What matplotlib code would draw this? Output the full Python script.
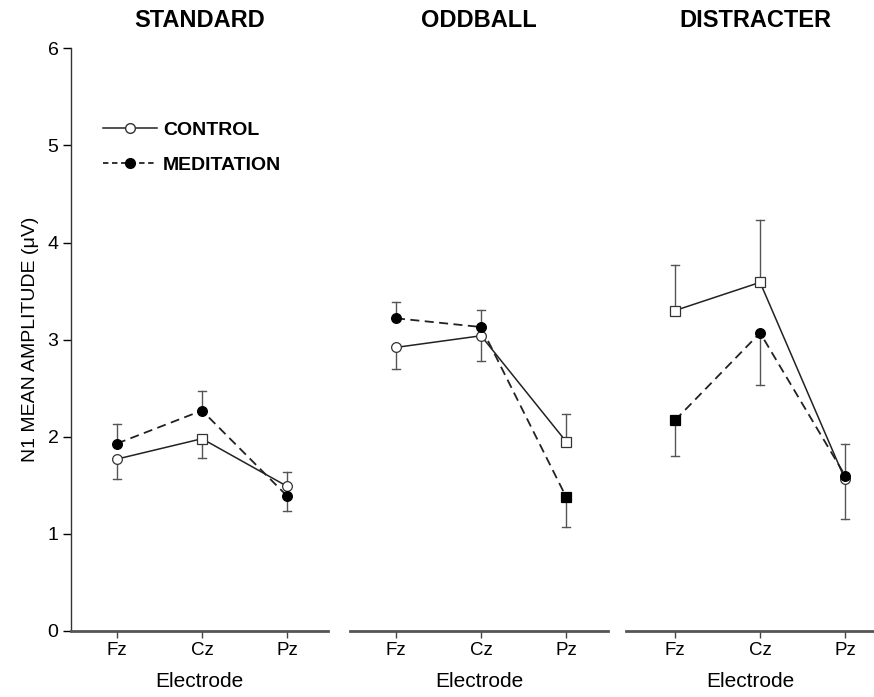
import matplotlib.pyplot as plt

plt.rcParams['font.family'] = ['Liberation Sans', 'DejaVu Sans']

electrodes = ["Fz", "Cz", "Pz"]
conditions = ["STANDARD", "ODDBALL", "DISTRACTER"]

control = [
    [1.77, 1.98, 1.49],
    [2.92, 3.04, 1.95],
    [3.30, 3.59, 1.56],
]
meditation = [
    [1.93, 2.27, 1.39],
    [3.22, 3.13, 1.38],
    [2.17, 3.07, 1.60],
]
control_sem = [
    [0.20, 0.20, 0.15],
    [0.22, 0.26, 0.28],
    [0.47, 0.64, 0.41],
]
meditation_sem = [
    [0.20, 0.20, 0.15],
    [0.17, 0.18, 0.31],
    [0.37, 0.54, 0.33],
]
# marker shape per point (squares as in the original figure)
control_markers = [["o", "s", "o"], ["o", "o", "s"], ["s", "s", "o"]]
meditation_markers = [["o", "o", "o"], ["o", "o", "s"], ["s", "o", "o"]]

ERR_COLOR = "#555555"

fig = plt.figure(figsize=(8.74, 6.97), dpi=100)
bottom, height = 0.0947, 0.836
positions = [(0.0812, 0.294), (0.4005, 0.295), (0.716, 0.284)]
xlims = [(-0.54, 2.48), (-0.54, 2.49), (-0.58, 2.34)]
title_x = [0.5, 0.5, 0.524]


def err_bar(ax, j, y, e):
    ax.plot([j, j], [y, y + e], color=ERR_COLOR, lw=1, zorder=1)
    ax.plot([j - 0.05, j + 0.05], [y + e, y + e], color=ERR_COLOR, lw=1, zorder=1)


x = list(range(len(electrodes)))
for i, cond in enumerate(conditions):
    left, width = positions[i]
    ax = fig.add_axes([left, bottom, width, height])

    # one-sided error bars: higher series gets the upper bar, lower one the lower bar
    for j in x:
        c, m = control[i][j], meditation[i][j]
        ce, me = control_sem[i][j], meditation_sem[i][j]
        if c >= m:
            err_bar(ax, j, c, ce)
            err_bar(ax, j, m, -me)
        else:
            err_bar(ax, j, m, me)
            err_bar(ax, j, c, -ce)

    ax.plot(x, control[i], color="#222222", lw=1.1, ls="-", zorder=2)
    ax.plot(x, meditation[i], color="#222222", lw=1.3, ls=(0, (5, 3)), zorder=2)
    for j in x:
        mk = control_markers[i][j]
        ax.plot(j, control[i][j], marker=mk, ms=7 if mk == "o" else 6.5,
                mfc="white", mec="#333333", mew=0.9, zorder=3)
        mk = meditation_markers[i][j]
        ax.plot(j, meditation[i][j], marker=mk, ms=7 if mk == "o" else 6.5,
                mfc="black", mec="black", mew=0.9, zorder=4)

    ax.set_xlim(*xlims[i])
    ax.set_ylim(0, 6)
    ax.set_xticks(x)
    ax.set_xticklabels(electrodes, fontsize=13.5)
    ax.set_xlabel("Electrode", fontsize=15, labelpad=9)
    ax.set_title(cond, fontsize=17, fontweight="bold", pad=15, x=title_x[i])

    for s in ["top", "right"]:
        ax.spines[s].set_visible(False)
    ax.spines["bottom"].set_color("#555555")
    ax.spines["bottom"].set_linewidth(2)
    ax.tick_params(axis="x", direction="out", length=5, width=1, color="#444444", pad=3)

    if i == 0:
        ax.spines["left"].set_color("#333333")
        ax.spines["left"].set_linewidth(1)
        ax.set_yticks(range(0, 7))
        ax.tick_params(axis="y", direction="out", length=6, width=1, labelsize=14, pad=3)
        ax.set_ylabel("N1 MEAN AMPLITUDE (\u03bcV)", fontsize=14, labelpad=6)
        h1, = ax.plot([], [], color="#222222", lw=1.1, marker="o", ms=7,
                      mfc="white", mec="#333333")
        h2, = ax.plot([], [], color="#222222", lw=1.3, ls=(0, (3, 2)), marker="o", ms=7,
                      mfc="black", mec="black")
        ax.legend([h1, h2], ["CONTROL", "MEDITATION"], loc="upper left",
                  bbox_to_anchor=(0.056, 0.905), frameon=False, handlelength=2.8,
                  handletextpad=0.3, labelspacing=0.92,
                  prop={"weight": "bold", "size": 14})
    else:
        ax.spines["left"].set_visible(False)
        ax.set_yticks([])

fig.savefig("out.png", dpi=100)
